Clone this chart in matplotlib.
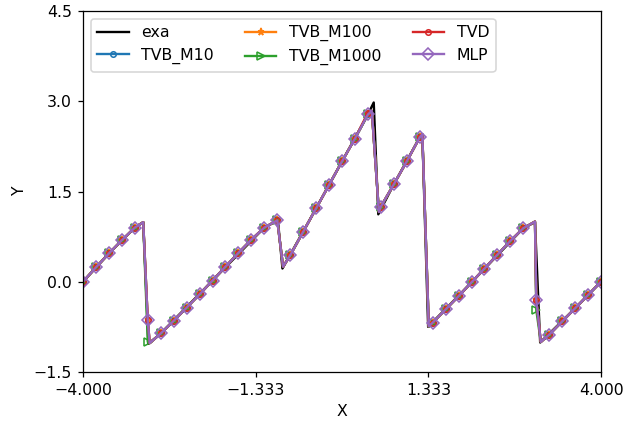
import numpy as np
import matplotlib
matplotlib.use('Agg')
import matplotlib.pyplot as plt

# exact solution (sharp shocks)
x_exa = [-4.0, -3.6, -3.2, -3.07, -2.99, -2.8, -2.0, -1.2, -0.99, -0.92, -0.4, 0.4, 0.49, 0.56,
         0.8, 1.2, 1.24, 1.33, 2.0, 2.8, 2.98, 3.06, 3.6, 4.0]
y_exa = [0.0, 0.47, 0.90, 0.99, -1.03, -0.86, 0.02, 0.90, 1.02, 0.22, 1.22, 2.78, 2.98, 1.12,
         1.62, 2.40, 2.45, -0.75, -0.01, 0.89, 0.99, -1.01, -0.44, 0.0]

# marked points of the schemes (every 0.2 in x)
x_mark = np.linspace(-4, 4, 41)
y_scheme = [0.00, 0.24, 0.47, 0.69, 0.90, -0.64, -0.86, -0.65, -0.43, -0.21,
            0.02, 0.25, 0.48, 0.70, 0.90, 1.02, 0.44, 0.83, 1.22, 1.61,
            2.00, 2.38, 2.78, 1.25, 1.62, 2.00, 2.40, -0.68, -0.46, -0.24,
            -0.01, 0.22, 0.45, 0.68, 0.89, -0.30, -0.88, -0.66, -0.44, -0.22,
            0.00]
y_m1000 = list(y_scheme)
y_m1000[5] = -1.00
y_m1000[35] = -0.47
y_tvd = list(y_scheme)
y_tvd[22] = 2.81

# extra points at the shock edges (unmarked)
x_corner = [-3.07, -2.97, -0.91, 0.46, 0.57, 1.24, 1.34, 2.98, 3.07]
y_corner = [0.99, -1.02, 0.25, 2.84, 1.16, 2.45, -0.74, 1.00, -1.00]


def merge(y_m):
    x = np.concatenate([x_mark, x_corner])
    y = np.concatenate([y_m, y_corner])
    order = np.argsort(x, kind='stable')
    every = list(np.where(order < len(x_mark))[0])
    return x[order], y[order], every


dpi = 113
fig = plt.figure(figsize=(626 / dpi, 425 / dpi), dpi=dpi)
ax = fig.add_axes([0.1326, 0.1247, 0.8275, 0.8494])

ax.plot(x_exa, y_exa, 'k-', label='exa')
styles = [('TVB_M10', y_scheme, 'C0', 'o', 3.5, 'none'),
          ('TVB_M100', y_scheme, 'C1', '*', 4.5, 'C1'),
          ('TVB_M1000', y_m1000, 'C2', '>', 4.5, 'none'),
          ('TVD', y_tvd, 'C3', 'o', 3.5, 'none'),
          ('MLP', y_scheme, 'C4', 'D', 5, 'none')]
for name, yy, c, m, ms, fc in styles:
    xs, ys, every = merge(yy)
    ax.plot(xs, ys, color=c, marker=m, ms=ms, mfc=fc, markevery=every, label=name)

xt = np.linspace(-4, 4, 4)
yt = np.linspace(-1.5, 4.5, 5)
ax.set_xlim(-4, 4)
ax.set_ylim(-1.5, 4.5)
ax.set_xticks(xt)
ax.set_xticklabels([('%.3f' % v).replace('-', '\u2212') for v in xt])
ax.set_yticks(yt)
ax.set_yticklabels([('%.1f' % v).replace('-', '\u2212') for v in yt])
ax.set_xlabel('X')
ax.set_ylabel('Y')
ax.legend(ncol=3, loc='upper left')
fig.savefig('out.png', dpi=dpi)
